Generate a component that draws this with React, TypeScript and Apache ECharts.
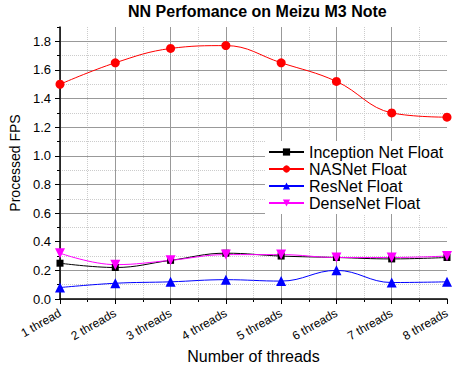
import React, { useEffect, useRef } from "react";
import * as echarts from "echarts";

const categories = ["1 thread", "2 threads", "3 threads", "4 threads", "5 threads", "6 threads", "7 threads", "8 threads"];
const inceptionNet = [0.25, 0.22, 0.27, 0.32, 0.30, 0.29, 0.28, 0.29];
const nasNet = [1.50, 1.65, 1.75, 1.77, 1.65, 1.52, 1.30, 1.27];
const resNet = [0.08, 0.11, 0.12, 0.135, 0.125, 0.20, 0.115, 0.12];
const denseNet = [0.32, 0.24, 0.27, 0.31, 0.31, 0.29, 0.29, 0.30];

const FONT = "Arial, 'Liberation Sans', Helvetica, sans-serif";

export default function App() {
  const ref = useRef<HTMLDivElement>(null);
  useEffect(() => {
    if (!ref.current) return;
    const chart = echarts.init(ref.current, null, { renderer: "svg" });
    const mk = (name: string, data: number[], color: string, symbol: string, size: number, rotate = 0) => ({
      name,
      type: "line",
      smooth: 0.4,
      data,
      xAxisIndex: 0,
      yAxisIndex: 0,
      symbol,
      symbolSize: size,
      symbolRotate: rotate,
      showAllSymbol: true,
      lineStyle: { color, width: 1 },
      itemStyle: { color },
    });
    chart.setOption({
      animation: false,
      textStyle: { fontFamily: FONT },
      title: {
        text: "NN Perfomance on Meizu M3 Note",
        left: 128,
        top: 3,
        padding: 0,
        textStyle: { fontFamily: FONT, fontWeight: "bold", fontSize: 16, color: "#000" },
      },
      legend: {
        orient: "vertical",
        left: 265,
        top: 141,
        padding: [3, 4, 3, 3],
        backgroundColor: "#fff",
        itemWidth: 35,
        itemHeight: 9,
        itemGap: 1,
        textStyle: { fontFamily: FONT, fontSize: 16, color: "#000", lineHeight: 16 },
        data: ["Inception Net Float", "NASNet Float", "ResNet Float", "DenseNet Float"],
      },
      grid: { left: 60, right: 6, top: 27, bottom: 66, containLabel: false, outerBoundsMode: "none" },
      xAxis: [
        {
          type: "category",
          data: categories,
          boundaryGap: false,
          name: "Number of threads",
          nameLocation: "middle",
          nameGap: 45,
          nameTextStyle: { fontFamily: FONT, fontSize: 16, color: "#000" },
          axisLine: { show: true, lineStyle: { color: "#000", width: 1.5 } },
          axisTick: { show: true, length: 5, interval: 0, lineStyle: { color: "#000" } },
          axisLabel: { interval: 0, rotate: 30, margin: 13, fontSize: 12, color: "#000", fontFamily: FONT },
          splitLine: { show: true, interval: 0, showMaxLine: false, lineStyle: { color: "#999", width: 1 } },
          z: 3,
        },
        {
          type: "value",
          min: 0,
          max: 7,
          interval: 0.5,
          position: "bottom",
          axisLine: { show: false },
          axisLabel: { show: false },
          axisTick: { show: true, length: 3, lineStyle: { color: "#000" } },
          splitLine: { show: true, showMaxLine: false, lineStyle: { color: ["rgba(0,0,0,0)", "#ccc"], type: "dotted", width: 1 } },
        },
      ],
      yAxis: [
        {
          type: "value",
          min: 0,
          max: 1.9,
          interval: 0.2,
          name: "Processed FPS",
          nameLocation: "middle",
          nameGap: 36,
          nameTextStyle: { fontFamily: FONT, fontSize: 14, color: "#000" },
          axisLine: { show: true, lineStyle: { color: "#000", width: 1.5 } },
          axisTick: { show: true, length: 5, lineStyle: { color: "#000" } },
          axisLabel: { showMaxLabel: false, fontSize: 13, color: "#000", fontFamily: FONT, margin: 9, formatter: (v: number) => v.toFixed(1) },
          splitLine: { show: true, showMaxLine: false, lineStyle: { color: "#999", width: 1 } },
          z: 3,
        },
        {
          type: "value",
          min: 0,
          max: 1.9,
          interval: 0.1,
          position: "left",
          axisLine: { show: false },
          axisLabel: { show: false },
          axisTick: { show: true, length: 3, lineStyle: { color: "#000" } },
          splitLine: { show: true, showMaxLine: false, lineStyle: { color: ["rgba(0,0,0,0)", "#ccc"], type: "dotted", width: 1 } },
        },
      ],
      series: [
        mk("Inception Net Float", inceptionNet, "#000000", "rect", 7),
        mk("NASNet Float", nasNet, "#ff0000", "circle", 9),
        mk("ResNet Float", resNet, "#0000ff", "triangle", 10),
        mk("DenseNet Float", denseNet, "#ff00ff", "triangle", 10, 180),
      ],
    });
    return () => chart.dispose();
  }, []);
  return <div ref={ref} style={{ width: 453, height: 365, position: "absolute", left: 0, top: 0, background: "#fff" }} />;
}
